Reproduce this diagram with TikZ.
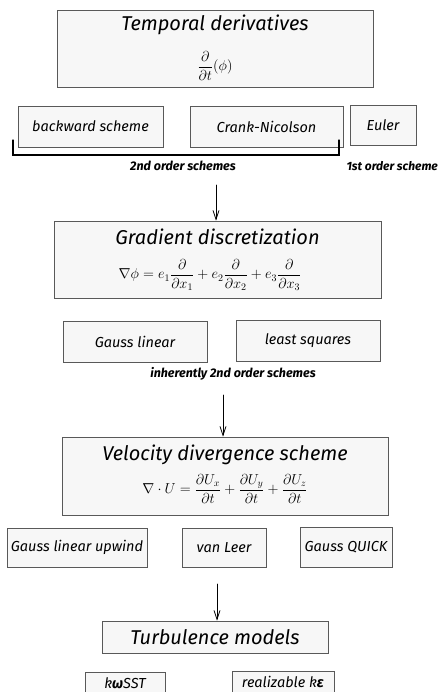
\documentclass[tikz,border=0pt]{standalone}
\usepackage{amsmath,amssymb}
\usepackage{fontspec}
\setmainfont{Fira Sans}
\usetikzlibrary{arrows.meta}

\begin{document}
\begin{tikzpicture}[x=1pt,y=-1pt,>={Straight Barb[length=9pt,width=6pt]},line cap=round,
  box/.style={draw=black!65,fill=black!3,line width=0.7pt,inner sep=0pt},
  head/.style={font=\fontsize{20}{23}\selectfont\itshape},
  eq/.style={font=\fontsize{14}{17}\selectfont},
  entry/.style={box,font=\fontsize{14.5}{16}\selectfont\itshape},
  note/.style={font=\fontsize{12.5}{14}\selectfont\bfseries\itshape}]
\useasboundingbox[fill=white] (0,0) rectangle (441,692);
% temporal derivatives
\node[box,minimum width=316pt,minimum height=77pt] (temp) at (215,48.5) {};
\node[head] (temptitle) at (215,25) {Temporal derivatives};
\node[eq] (tempeq) at (215,66) {$\dfrac{\partial}{\partial t}(\phi)$};
\node[entry,minimum width=145pt,minimum height=41pt] (backward) at (90.5,126.5) {backward scheme};
\node[entry,minimum width=153pt,minimum height=41pt] (crank) at (266.5,126.5) {Crank-Nicolson};
\node[entry,minimum width=66pt,minimum height=40pt] (euler) at (383,125) {Euler};
\draw[line width=1.2pt] (13,140) -- (13,155) -- (339,155) -- (339,140);
\node[note] (ord2) at (183,166) {2nd order schemes};
\node[note,anchor=west,font=\fontsize{12}{14}\selectfont\bfseries\itshape] (ord1) at (343,166) {1st order scheme};
% gradient
\coordinate (a1) at (216,185);
\node[box,minimum width=327pt,minimum height=77pt] (grad) at (217.5,259.5) {};
\node[head] (gradtitle) at (217.5,237) {Gradient discretization};
\node[eq] (gradeq) at (210,275) {$\nabla\phi = e_1\dfrac{\partial}{\partial x_1}+e_2\dfrac{\partial}{\partial x_2}+e_3\dfrac{\partial}{\partial x_3}$};
\draw[->,line width=0.8pt] (a1) -- (a1 |- grad.north);
\node[entry,minimum width=144pt,minimum height=41pt] (gauss) at (135,341.5) {Gauss linear};
\node[entry,minimum width=144pt,minimum height=41pt] (lsq) at (308,340.5) {least squares};
\node[note] (inh) at (233,374) {inherently 2nd order schemes};
% velocity divergence
\coordinate (a2) at (223,395);
\node[box,minimum width=326pt,minimum height=78pt] (div) at (225,476) {};
\node[head] (divtitle) at (225,455) {Velocity divergence scheme};
\node[eq] (diveq) at (225,489) {$\nabla\cdot U = \dfrac{\partial U_x}{\partial t}+\dfrac{\partial U_y}{\partial t}+\dfrac{\partial U_z}{\partial t}$};
\draw[->,line width=0.8pt] (a2) -- (a2 |- div.north);
\node[entry,minimum width=140pt,minimum height=39pt] (upwind) at (77,547.5) {Gauss linear upwind};
\node[entry,minimum width=84pt,minimum height=39pt] (vanleer) at (224,547.5) {van Leer};
\node[entry,minimum width=92pt,minimum height=40pt] (quick) at (346,547) {Gauss QUICK};
% turbulence
\coordinate (a3) at (217,584);
\node[box,minimum width=226pt,minimum height=32pt,head] (turb) at (215,637) {Turbulence models};
\draw[->,line width=0.8pt] (a3) -- (a3 |- turb.north);
\node[entry,minimum width=80pt,minimum height=22pt] (komega) at (125,683) {k{\bfseries ω}SST};
\node[entry,minimum width=102pt,minimum height=22pt] (keps) at (283,682) {realizable k{\bfseries ε}};
\end{tikzpicture}
\end{document}
